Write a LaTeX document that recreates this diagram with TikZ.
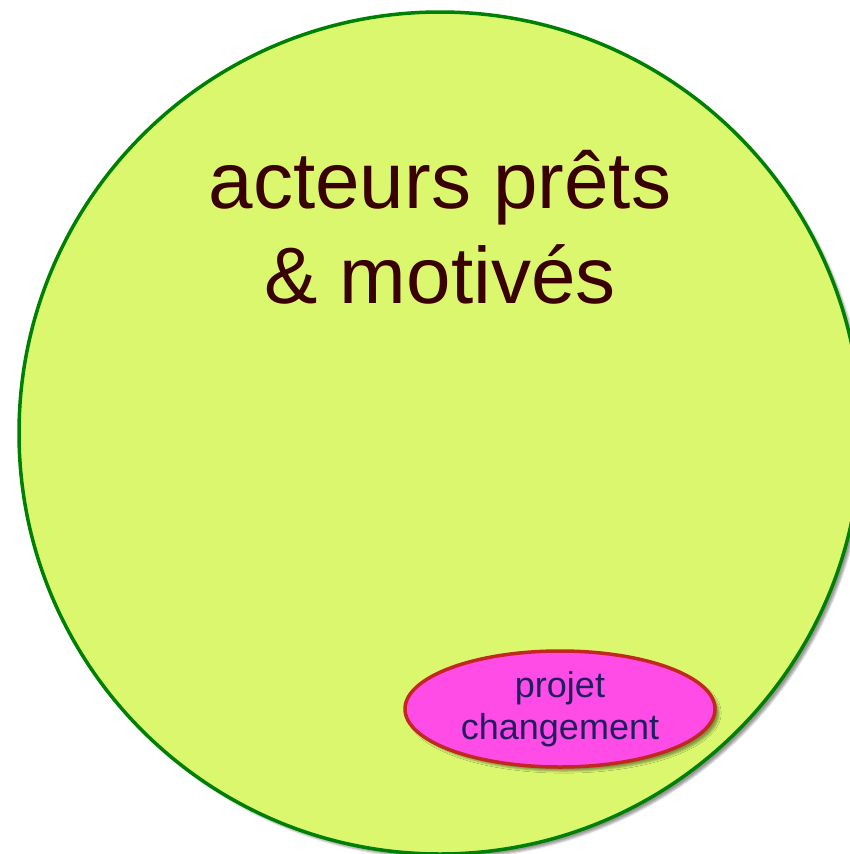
\documentclass[tikz,border=0pt]{standalone}
\usepackage{fontspec}
\setmainfont{Liberation Sans}
\usepackage{tikz}
\usetikzlibrary{shapes.geometric, shadows.blur}
\definecolor{poolfill}{HTML}{DAF76E}
\definecolor{poolline}{HTML}{008000}
\definecolor{projfill}{HTML}{FF4CE6}
\definecolor{projline}{HTML}{C02820}
\definecolor{brun}{HTML}{3A0000}
\definecolor{marine}{HTML}{1F1F5F}

\begin{document}
\begin{tikzpicture}[x=1pt, y=-1pt,
    pool/.style={circle, draw=poolline, fill=poolfill, line width=3.5pt,
      minimum size=842pt, inner sep=0pt,
      blur shadow={shadow xshift=4pt, shadow yshift=-4pt, shadow opacity=40}},
    projet/.style={ellipse, draw=projline, fill=projfill, line width=3.5pt,
      minimum width=310pt, minimum height=116pt, inner sep=0pt,
      text=marine, align=center, font=\fontsize{36}{42}\selectfont,
      blur shadow={shadow xshift=4pt, shadow yshift=-4pt, shadow opacity=40}}]
    \useasboundingbox (0,0) rectangle (850,854);
    \node[pool] (cercle) at (440,433) {};
    \node[text=brun, align=center, font=\fontsize{80}{95}\selectfont, anchor=base]
      (acteurs) at (440,303) {acteurs prêts\\ \& motivés};
    \node[projet] (proj) at (560,709) {projet\\ changement};
\end{tikzpicture}
\end{document}
